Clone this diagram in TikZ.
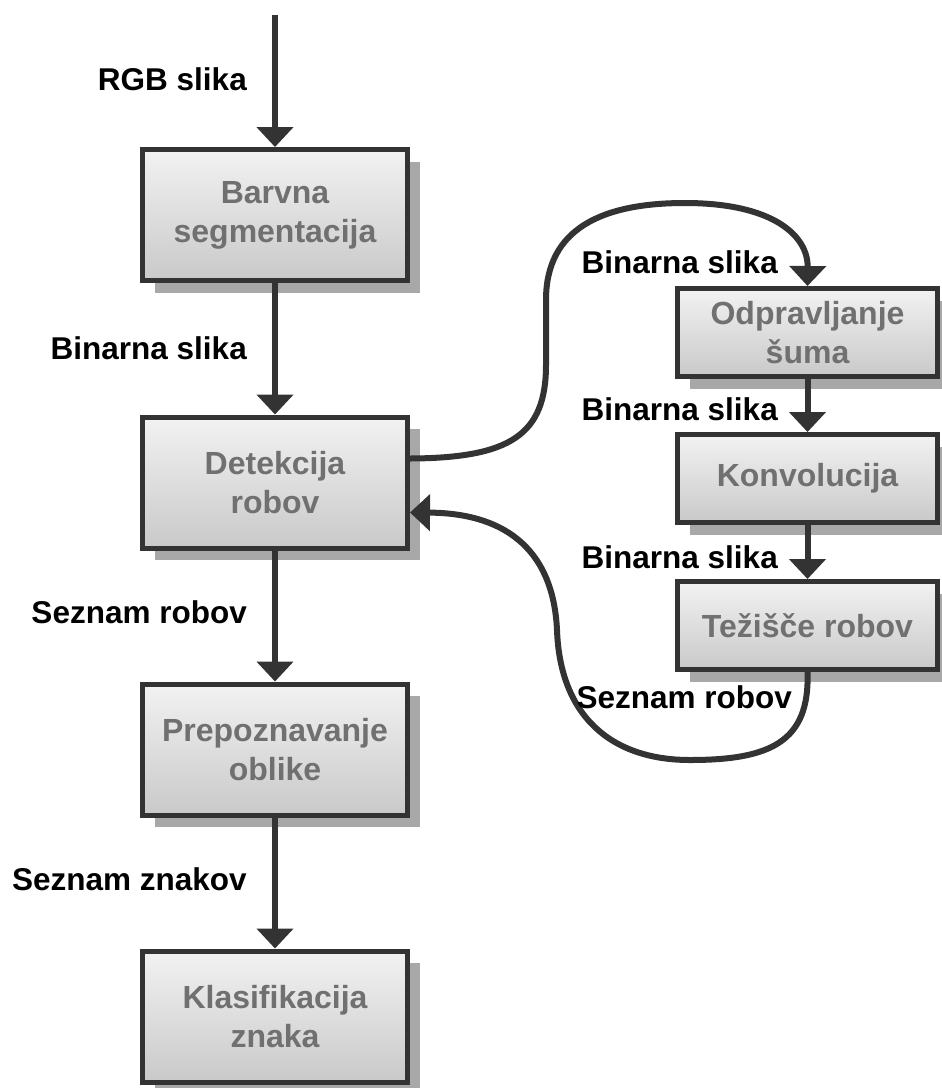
\documentclass[tikz,border=0pt]{standalone}
\usepackage{fontspec}
\setmainfont{Liberation Sans}
\usetikzlibrary{arrows.meta,shadows}
\definecolor{ink}{HTML}{333333}
\definecolor{boxtext}{HTML}{707070}
\definecolor{shade}{HTML}{A8A8A8}
\definecolor{boxtop}{HTML}{F2F2F2}
\definecolor{boxbot}{HTML}{C9C9C9}

\begin{document}
\begin{tikzpicture}[x=1pt,y=-1pt,
  box/.style={draw=ink, line width=5pt, top color=boxtop, bottom color=boxbot,
    text=boxtext, font=\fontsize{32}{39}\selectfont\bfseries, align=center, inner sep=0pt,
    drop shadow={shadow xshift=12pt, shadow yshift=-12pt, fill=shade, opacity=1}},
  bigbox/.style={box, minimum width=265pt, minimum height=131pt},
  smallbox/.style={box, minimum width=260pt, minimum height=88pt},
  flow/.style={draw=ink, line width=6pt, -{Triangle[width=36pt,length=20pt]}},
  lbl/.style={font=\fontsize{31.5}{36}\selectfont\bfseries, text=black, inner sep=0pt}]

\useasboundingbox[fill=white] (0,0) rectangle (942,1088);

% main processing chain
\node[bigbox] (bs) at (275,215)    {Barvna\\segmentacija};
\node[bigbox] (dr) at (275,482.5)  {Detekcija\\robov};
\node[bigbox] (po) at (275,749.5)  {Prepoznavanje\\oblike};
\node[bigbox] (kz) at (275,1016.5) {Klasifikacija\\znaka};

% edge detection sub-steps
\node[smallbox] (od) at (807.5,332.5) {Odpravljanje\\šuma};
\node[smallbox] (kv) at (807.5,478.5) {Konvolucija};
\node[smallbox] (tz) at (807.5,625.5) {Težišče robov};

\coordinate (src) at (275,15);

% vertical connectors
\draw[flow] (src) -- (bs);
\draw[flow] (bs) -- (dr);
\draw[flow] (dr) -- (po);
\draw[flow] (po) -- (kz);
\draw[flow] (od) -- (kv);
\draw[flow] (kv) -- (tz);

% loop out to the sub-steps and back
\draw[flow] ([yshift=24pt]dr.east) .. controls (510,458) and (546,435) .. (546,365)
  -- (546,300) .. controls (546,228) and (603,203) .. (685,203)
  .. controls (772,203) and (808,235) .. (od.north);
\draw[flow] (tz.south) .. controls (810,742) and (770,760) .. (690,760)
  .. controls (610,760) and (560,715) .. (557,630)
  .. controls (553,545) and (500,513) .. ([yshift=-30pt]dr.east);

% data labels
\node[lbl, anchor=base east] (l1) at (247,90)  {RGB slika};
\node[lbl, anchor=base east] (l2) at (247,359) {Binarna slika};
\node[lbl, anchor=base east] (l3) at (247,623) {Seznam robov};
\node[lbl, anchor=base east] (l4) at (247,890) {Seznam znakov};
\node[lbl, anchor=base east] (l5) at (778,273) {Binarna slika};
\node[lbl, anchor=base east] (l6) at (778,420) {Binarna slika};
\node[lbl, anchor=base east] (l7) at (778,568) {Binarna slika};
\node[lbl, anchor=base east] (l8) at (792,708) {Seznam robov};
\end{tikzpicture}
\end{document}
